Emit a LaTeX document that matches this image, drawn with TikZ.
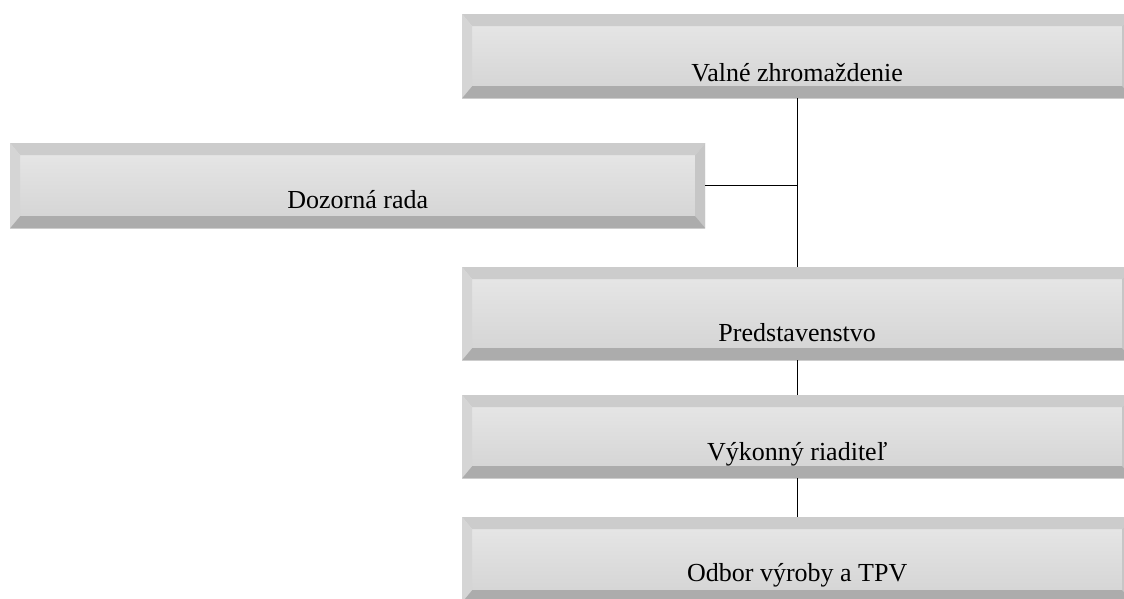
\documentclass[tikz,border=0pt]{standalone}
\usepackage{fontspec}
\setmainfont{Liberation Serif}
\usetikzlibrary{calc}
\tikzstyle{orgbox}=[rectangle,anchor=north west,inner sep=0pt,font=\fontsize{26}{30}\selectfont,
    top color=gray!18,middle color=white,bottom color=gray!35,
    path picture={
        \coordinate (bvNW) at (path picture bounding box.north west);
        \coordinate (bvNE) at (path picture bounding box.north east);
        \coordinate (bvSW) at (path picture bounding box.south west);
        \coordinate (bvSE) at (path picture bounding box.south east);
        \fill[gray!40] (bvNW) -- (bvNE) -- ($(bvNE)+(-10pt,-12pt)$) -- ($(bvNW)+(10pt,-12pt)$) -- cycle;
        \fill[gray!33] (bvNW) -- ($(bvNW)+(10pt,-12pt)$) -- ($(bvSW)+(10pt,12pt)$) -- (bvSW) -- cycle;
        \fill[gray!45] (bvNE) -- ($(bvNE)+(-10pt,-12pt)$) -- ($(bvSE)+(-10pt,12pt)$) -- (bvSE) -- cycle;
        \fill[gray!65] (bvSW) -- (bvSE) -- ($(bvSE)+(-10pt,12pt)$) -- ($(bvSW)+(10pt,12pt)$) -- cycle;
    }]
\tikzstyle{link} = [draw,line width=1.3pt]

\begin{document}
\begin{tikzpicture}[x=1pt,y=-1pt]
    \useasboundingbox (0,0) rectangle (1124,598);

    % boxes of the organisation chart
    \node[orgbox,minimum width=670pt,text height=67pt,text depth=17pt] (valne) at (462,14) {Valné zhromaždenie};
    \node[orgbox,minimum width=695pt,text height=65pt,text depth=20pt] (dozor) at (10,143) {Dozorná rada};
    \node[orgbox,minimum width=670pt,text height=74pt,text depth=19pt] (pred) at (462,267) {Predstavenstvo};
    \node[orgbox,minimum width=670pt,text height=65pt,text depth=18pt] (vykon) at (462,395) {Výkonný riaditeľ};
    \node[orgbox,minimum width=670pt,text height=64pt,text depth=21pt] (odbor) at (462,517) {Odbor výroby a TPV};

    % connections
    \foreach \source/ \dest in {valne/pred, pred/vykon, vykon/odbor}
        \path[link] (\source) -- (\dest);
    \path[link] (dozor) -- (dozor -| valne);

\end{tikzpicture}
\end{document}
